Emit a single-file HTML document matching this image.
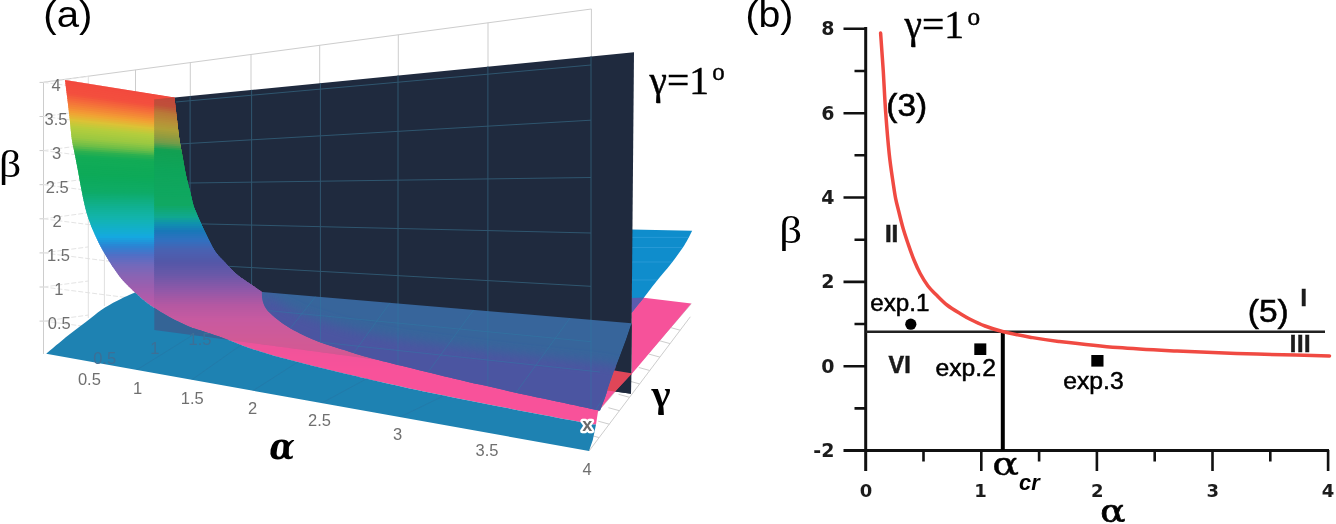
<!DOCTYPE html>
<html lang="en"><head><meta charset="utf-8"><title>Figure: (a) 3D surfaces, (b) phase diagram</title>
<style>html,body{margin:0;padding:0;background:#fff;}body{width:1336px;height:524px;overflow:hidden;}svg{display:block;}</style>
</head><body>
<svg width="1336" height="524" viewBox="0 0 1336 524">
<defs>
<clipPath id="cpPlane"><polygon points="154.3,99.5 634,52.3 631,393.7 154.3,330"/></clipPath>
<clipPath id="cpRainbow"><path d="M65 80 L174.4 97.6 L174.4 97.6 C174.8 100.5 175.8 109.4 176.5 115 C177.2 120.6 177.7 126.3 178.3 131 C178.9 135.7 179.3 138.8 180 143 C180.7 147.2 181.5 150.7 182.5 156.2 C183.5 161.7 184.9 170.2 186.2 176 C187.4 181.8 188.8 186.2 190 191 C191.2 195.8 192.3 201.4 193.3 205 C194.3 208.6 195.1 209.8 196.2 212.5 C197.3 215.2 198.4 217.7 200 221.2 C201.6 224.7 203.3 228.7 205.8 233.7 C208.3 238.7 211.8 246.4 215 251.2 C218.2 256 221.2 258.5 225 262.5 C228.8 266.5 233.3 271.5 237.5 275 C241.7 278.5 245.9 280.9 250 283.7 C254.1 286.5 259.9 290.5 261.9 291.9 L261.9 291.9 C264.9 293.8 273.6 299.4 280 303 C286.4 306.6 288.3 309.2 300 313.5 C311.7 317.8 333.3 324.8 350 329 C366.7 333.2 377.7 335.4 400 339 C422.3 342.6 457.3 347.2 484 350.5 C510.7 353.8 539.2 356.7 560 359 C580.8 361.3 597.1 362.3 609 364.5 C620.9 366.7 627.8 370.8 631.5 372 L631.5 374.2 L615 391.6 L598 411.5 L596 424.6 L596 424.6 C593.3 424.2 591 423.9 580 421.9 C569 419.9 546.7 415.7 530 412.5 C513.3 409.3 496.8 406 480 402.7 C463.2 399.4 445.7 396 429 392.5 C412.3 389 393.2 384.7 380 381.7 C366.8 378.7 359.2 376.9 350 374.7 C340.8 372.5 333.3 370.7 325 368.7 C316.7 366.7 308.3 364.6 300 362.5 C291.7 360.4 283.3 358.4 275 356 C266.7 353.6 258.3 351.1 250 348.2 C241.7 345.3 233.3 341.7 225 338.7 C216.7 335.7 205.8 332.3 200 330.3 C194.2 328.3 193.8 328.4 190 326.9 C186.2 325.4 181.7 323.3 177.5 321.2 C173.3 319.1 168.7 316.5 165 314.4 C161.3 312.3 158.9 310.9 155.6 308.7 C152.3 306.5 148.4 303.9 145 301.2 C141.6 298.5 136.7 293.9 135 292.5 L135 292.5 C132.9 290.4 125.8 283.8 122.5 280 C119.2 276.2 117.1 272.9 115 270 C112.9 267.1 112.1 265.8 110 262.5 C107.9 259.2 105 254.6 102.5 250 C100 245.4 97.3 240 95 235 C92.7 230 90.6 225 88.9 220 C87.2 215 85.9 210.4 84.6 205 C83.3 199.6 82.2 193.6 81 187.5 C79.8 181.4 78.7 174.5 77.6 168.7 C76.5 162.9 75.4 157.3 74.4 152.5 C73.5 147.7 72.7 145.4 71.9 140 C71.1 134.6 70.5 126.7 69.8 120 C69.1 113.3 68.3 106.7 67.5 100 C66.7 93.3 65.4 83.3 65 80 Z"/></clipPath>
<clipPath id="cpBlueII"><path d="M261.9 291.9 L631.5 323.2 L626 340 L620 356 L615 369 L610 382.5 L605 397.5 L600 410.6 L600 410.6 C596.7 409.9 591.7 408.9 580 406.4 C568.3 403.9 546.7 399.4 530 395.8 C513.3 392.2 495 388 480 384.6 C465 381.2 453.1 378.3 440 375.2 C426.9 372.1 413.7 368.9 401.5 365.8 C389.3 362.8 375.6 359.2 367 356.9 C358.4 354.6 354.9 353.4 350 351.9 C345.1 350.4 341.7 349.4 337.5 348.1 C333.3 346.8 329.2 345.5 325 344 C320.8 342.5 316.7 340.9 312.5 339.2 C308.3 337.4 304.2 335.6 300 333.5 C295.8 331.4 291.7 329.3 287.5 326.6 C283.3 323.9 278.6 320.5 275 317.5 C271.4 314.5 268.3 311.6 266.2 308.7 C264.1 305.8 263.2 302.8 262.5 300 C261.8 297.2 262 293.2 261.9 291.9 Z"/></clipPath>
<clipPath id="cpBlueFg"><path d="M46.2 353.7 C50 350.6 61.4 340.8 68.7 335 C76 329.2 84 323.3 90 318.7 C96 314.1 99.8 310.8 105 307.5 C110.2 304.2 116.2 301.2 121.2 298.7 C126.2 296.2 132.7 293.5 135 292.5 L135 292.5 C136.7 293.9 141.6 298.5 145 301.2 C148.4 303.9 152.3 306.5 155.6 308.7 C158.9 310.9 161.3 312.3 165 314.4 C168.7 316.5 173.3 319.1 177.5 321.2 C181.7 323.3 186.2 325.4 190 326.9 C193.8 328.4 194.2 328.3 200 330.3 C205.8 332.3 216.7 335.7 225 338.7 C233.3 341.7 241.7 345.3 250 348.2 C258.3 351.1 266.7 353.6 275 356 C283.3 358.4 291.7 360.4 300 362.5 C308.3 364.6 316.7 366.7 325 368.7 C333.3 370.7 340.8 372.5 350 374.7 C359.2 376.9 366.8 378.7 380 381.7 C393.2 384.7 412.3 389 429 392.5 C445.7 396 463.2 399.4 480 402.7 C496.8 406 513.3 409.3 530 412.5 C546.7 415.7 569 419.9 580 421.9 C591 423.9 593.3 424.2 596 424.6 L592.8 440 L589 451 Z"/></clipPath>
<filter id="bl6" x="-10%" y="-30%" width="120%" height="160%"><feGaussianBlur stdDeviation="6"/></filter>
<filter id="soft" x="-5%" y="-5%" width="110%" height="110%"><feGaussianBlur stdDeviation="0.6"/></filter>
</defs>
<rect width="1336" height="524" fill="#fff"/>
<g id="panelA">
<path d="M43.5 354 L43.5 82.2 L591.4 9 M135.5 69.9 L135.5 330 M190.3 62.6 L190.3 99.9 M251 54.5 L251 93.9 M319.7 45.3 L319.7 87.2 M398.3 34.8 L398.3 79.4 M488 22.8 L488 70.5 M591.4 9 L591.4 60.3 M39.5 82.4 L43.5 82.4 M39.5 116.5 L43.5 116.5 M39.5 150.6 L43.5 150.6 M39.5 184.7 L43.5 184.7 M39.5 218.8 L43.5 218.8 M39.5 252.9 L43.5 252.9 M39.5 287 L43.5 287 M39.5 321.1 L43.5 321.1 M589 451 L690.3 316.8 M598 411.5 L691.3 303.7 M599.1 437.6 l-11 -3 M609.3 424.2 l-11 -3 M619.4 410.7 l-11 -3 M629.5 397.3 l-11 -3 M639.6 383.9 l-11 -3 M649.8 370.5 l-11 -3 M659.9 357.1 l-11 -3 M670 343.6 l-11 -3 M680.2 330.2 l-11 -3" fill="none" stroke="#cdcdcd" stroke-width="1"/>
<path d="M43.5 82.4 L88.3 76.4 M43.5 82.4 L130 93.4 M43.5 116.5 L88.3 110.5 M43.5 116.5 L130 127.5 M43.5 150.6 L88.3 144.6 M43.5 150.6 L130 161.6 M43.5 184.7 L88.3 178.7 M43.5 184.7 L130 195.7 M43.5 218.8 L88.3 212.8 M43.5 218.8 L130 229.8 M43.5 252.9 L88.3 246.9 M43.5 252.9 L130 263.9 M43.5 287 L88.3 281 M43.5 287 L130 298 M43.5 321.1 L88.3 315.1 M43.5 321.1 L130 332.1" fill="none" stroke="#e4e4e4" stroke-width="1" stroke-dasharray="5 2"/>
<path d="M88.3 76.2 L88.3 318 M104.4 100 L104.4 306" fill="none" stroke="#e0e0e0" stroke-width="1"/>
<polygon points="631.5,296.2 691.3,303.5 631.5,374.2" fill="#f6529a"/>
<path d="M631.5 229.4 L692.2 230.7 L692.2 230.7 C690.9 233.1 687.8 239.8 684.2 245.4 C680.6 251 675.2 258.3 670.8 264.1 C666.3 269.9 662 274.5 657.5 280.1 C653 285.7 647.4 293.2 644 297.5 C640.6 301.8 639.1 303.4 637 306 C634.9 308.6 632.4 311.8 631.5 313 L631.5 323.2 Z" fill="#0f8dcc"/>
<clipPath id="cpBlueBack"><path d="M631.5 229.4 L692.2 230.7 L692.2 230.7 C690.9 233.1 687.8 239.8 684.2 245.4 C680.6 251 675.2 258.3 670.8 264.1 C666.3 269.9 662 274.5 657.5 280.1 C653 285.7 647.4 293.2 644 297.5 C640.6 301.8 639.1 303.4 637 306 C634.9 308.6 632.4 311.8 631.5 313 L631.5 323.2 Z"/></clipPath>
<path d="M630 237.4H700M630 247.5H700M630 262H700M630 280H700" stroke="#35a2dc" stroke-width="1" opacity="0.6" fill="none" clip-path="url(#cpBlueBack)"/>
<polygon points="631.5,298 644,297.5 637,306 631.5,313" fill="#5a5cae"/>
<polygon points="154.3,99.5 634,52.3 631,393.7 154.3,330" fill="#1f2a3e"/>
<path d="M190.1 96 L190.1 334.8 M251.6 89.9 L251.6 343 M320.4 83.1 L320.4 352.1 M398 75.4 L398 362.5 M487.9 66.5 L487.9 374.5 M591 56.4 L591 388.2 M175.8 102 L591 65 M175.8 144.2 L591 120.2 M175.8 183.2 L591 177.5 M175.8 223.3 L591 233 M175.8 263.4 L591 286.3 M175.8 303.5 L591 341.7" fill="none" stroke="#2f566f" stroke-width="1"/>
<g clip-path="url(#cpRainbow)"><path d="M30 46.9L700 172L700 172.7L30 50.9Z" fill="#f2463e"/><path d="M30 49.1L700 172.4L700 173.1L30 53.1Z" fill="#f2463e"/><path d="M30 51.3L700 172.8L700 173.5L30 55.2Z" fill="#f2463e"/><path d="M30 53.5L700 173.2L700 173.9L30 57.4Z" fill="#f2463e"/><path d="M30 55.7L700 173.6L700 174.3L30 59.6Z" fill="#f2463e"/><path d="M30 57.9L700 174L700 174.7L30 61.8Z" fill="#f2463e"/><path d="M30 60.1L700 174.4L700 175.1L30 64Z" fill="#f2463e"/><path d="M30 62.2L700 174.8L700 175.5L30 66.2Z" fill="#f2463e"/><path d="M30 64.4L700 175.2L700 175.9L30 68.4Z" fill="#f2463e"/><path d="M30 66.6L700 175.6L700 176.3L30 70.5Z" fill="#f2463e"/><path d="M30 68.8L700 176L700 176.7L30 72.7Z" fill="#f2473e"/><path d="M30 71L700 176.4L700 177.1L30 74.9Z" fill="#f2483e"/><path d="M30 73.2L700 176.8L700 177.5L30 77.1Z" fill="#f2493e"/><path d="M30 75.4L700 177.2L700 177.9L30 79.3Z" fill="#f24a3e"/><path d="M30 77.5L700 177.6L700 178.3L30 81.5Z" fill="#f34b3e"/><path d="M30 79.7L700 178L700 178.7L30 83.7Z" fill="#f34c3e"/><path d="M30 81.9L700 178.4L700 179.1L30 85.9Z" fill="#f34d3e"/><path d="M30 84.1L700 178.8L700 179.5L30 88Z" fill="#f34e3e"/><path d="M30 86.3L700 179.2L700 179.9L30 90.2Z" fill="#f34f3e"/><path d="M30 88.5L700 179.6L700 180.3L30 92.4Z" fill="#f3543d"/><path d="M30 90.7L700 180L700 180.7L30 94.6Z" fill="#f35d3c"/><path d="M30 92.9L700 180.4L700 181.1L30 96.8Z" fill="#f4653b"/><path d="M30 95L700 180.8L700 181.5L30 99Z" fill="#f46d3a"/><path d="M30 97.2L700 181.2L700 181.9L30 101.2Z" fill="#f47639"/><path d="M30 99.4L700 181.6L700 182.3L30 103.3Z" fill="#f47f38"/><path d="M30 101.6L700 182L700 182.7L30 105.5Z" fill="#f38836"/><path d="M30 103.8L700 182.4L700 183.1L30 107.7Z" fill="#f39236"/><path d="M30 106L700 182.8L700 183.5L30 109.9Z" fill="#f29b34"/><path d="M30 108.2L700 183.2L700 183.9L30 112.1Z" fill="#efa534"/><path d="M30 110.3L700 183.6L700 184.3L30 114.3Z" fill="#e9af35"/><path d="M30 112.5L700 184L700 184.7L30 116.5Z" fill="#e2b835"/><path d="M30 114.7L700 184.4L700 185.1L30 118.7Z" fill="#dcc236"/><path d="M30 116.9L700 184.8L700 185.5L30 120.8Z" fill="#d1c538"/><path d="M30 119.1L700 185.2L700 185.9L30 123Z" fill="#c6c939"/><path d="M30 121.3L700 185.6L700 186.3L30 125.2Z" fill="#bbcc3b"/><path d="M30 123.5L700 186L700 186.7L30 127.4Z" fill="#b3cd3d"/><path d="M30 125.7L700 186.4L700 187.1L30 129.6Z" fill="#aecc3e"/><path d="M30 127.8L700 186.8L700 187.5L30 131.8Z" fill="#a8cb3f"/><path d="M30 130L700 187.2L700 187.9L30 134Z" fill="#a2ca40"/><path d="M30 132.2L700 187.6L700 188.3L30 136.1Z" fill="#9dc941"/><path d="M30 134.4L700 188L700 188.7L30 138.3Z" fill="#93c743"/><path d="M30 136.6L700 188.4L700 189.1L30 140.5Z" fill="#86c445"/><path d="M30 138.8L700 188.8L700 189.5L30 142.7Z" fill="#79c146"/><path d="M30 141L700 189.2L700 189.9L30 144.9Z" fill="#6cbe48"/><path d="M30 143.1L700 189.6L700 190.3L30 147.1Z" fill="#57b94b"/><path d="M30 145.3L700 190L700 190.7L30 149.3Z" fill="#41b54d"/><path d="M30 147.5L700 190.4L700 191.1L30 151.5Z" fill="#2cb050"/><path d="M30 149.7L700 190.8L700 191.5L30 153.6Z" fill="#22ae52"/><path d="M30 151.9L700 191.2L700 191.9L30 155.8Z" fill="#17ac55"/><path d="M30 154.1L700 191.6L700 192.3L30 158Z" fill="#12ab56"/><path d="M30 156.3L700 192L700 192.7L30 160.2Z" fill="#11ab56"/><path d="M30 158.5L700 192.4L700 193.1L30 162.4Z" fill="#11ab57"/><path d="M30 160.6L700 192.8L700 193.5L30 164.6Z" fill="#10ab57"/><path d="M30 162.8L700 193.2L700 193.9L30 166.8Z" fill="#0faa57"/><path d="M30 165L700 193.6L700 194.3L30 168.9Z" fill="#0faa57"/><path d="M30 167.2L700 194L700 194.7L30 171.1Z" fill="#0eaa58"/><path d="M30 169.4L700 194.4L700 195.1L30 173.3Z" fill="#0eaa58"/><path d="M30 171.6L700 194.8L700 195.5L30 175.5Z" fill="#0daa58"/><path d="M30 173.8L700 195.2L700 195.9L30 177.7Z" fill="#0daa5a"/><path d="M30 175.9L700 195.6L700 196.3L30 179.9Z" fill="#0daa5b"/><path d="M30 178.1L700 196L700 196.7L30 182.1Z" fill="#0daa5d"/><path d="M30 180.3L700 196.4L700 197.1L30 184.3Z" fill="#0daa5f"/><path d="M30 182.5L700 196.8L700 197.5L30 186.4Z" fill="#0eab60"/><path d="M30 184.7L700 197.2L700 197.9L30 188.6Z" fill="#0eab62"/><path d="M30 186.9L700 197.6L700 198.3L30 190.8Z" fill="#0eab64"/><path d="M30 189.1L700 198L700 198.7L30 193Z" fill="#0eab65"/><path d="M30 191.3L700 198.4L700 199.1L30 195.2Z" fill="#0eab69"/><path d="M30 193.4L700 198.8L700 199.5L30 197.4Z" fill="#0eac6f"/><path d="M30 195.6L700 199.2L700 199.9L30 199.6Z" fill="#0fad74"/><path d="M30 197.8L700 199.6L700 201.6L30 201.6Z" fill="#0fae7a"/><path d="M30 200L700 200L700 203.6L30 203.6Z" fill="#0fae80"/><path d="M30 202L700 202L700 205.6L30 205.6Z" fill="#10af85"/><path d="M30 204L700 204L700 207.6L30 207.6Z" fill="#10b08b"/><path d="M30 206L700 206L700 209.6L30 209.6Z" fill="#10b091"/><path d="M30 208L700 208L700 211.6L30 211.6Z" fill="#11b196"/><path d="M30 210L700 210L700 213.6L30 213.6Z" fill="#11b29b"/><path d="M30 212L700 212L700 215.6L30 215.6Z" fill="#11b3a0"/><path d="M30 214L700 214L700 217.6L30 217.6Z" fill="#12b3a5"/><path d="M30 216L700 216L700 219.6L30 219.6Z" fill="#12b4aa"/><path d="M30 218L700 218L700 221.6L30 221.6Z" fill="#12b3af"/><path d="M30 220L700 220L700 223.6L30 223.6Z" fill="#12b3b5"/><path d="M30 222L700 222L700 225.6L30 225.6Z" fill="#12b2ba"/><path d="M30 224L700 224L700 227.6L30 227.6Z" fill="#12b1c0"/><path d="M30 226L700 226L700 229.6L30 229.6Z" fill="#12b0c5"/><path d="M30 228L700 228L700 231.6L30 231.6Z" fill="#12afcb"/><path d="M30 230L700 230L700 233.6L30 233.6Z" fill="#13add0"/><path d="M30 232L700 232L700 235.6L30 235.6Z" fill="#13acd5"/><path d="M30 234L700 234L700 237.6L30 237.6Z" fill="#14aadb"/><path d="M30 236L700 236L700 239.6L30 239.6Z" fill="#14a8e0"/><path d="M30 238L700 238L700 241.6L30 241.6Z" fill="#19a0dd"/><path d="M30 240L700 240L700 243.6L30 243.6Z" fill="#1e98db"/><path d="M30 242L700 242L700 245.6L30 245.6Z" fill="#2390d8"/><path d="M30 244L700 244L700 247.6L30 247.6Z" fill="#2888d5"/><path d="M30 246L700 246L700 249.6L30 249.6Z" fill="#2e82d2"/><path d="M30 248L700 248L700 251.6L30 251.6Z" fill="#367dcf"/><path d="M30 250L700 250L700 253.6L30 253.6Z" fill="#3f78cc"/><path d="M30 252L700 252L700 255.6L30 255.6Z" fill="#4774c9"/><path d="M30 254L700 254L700 257.6L30 257.6Z" fill="#4f6fc6"/><path d="M30 256L700 256L700 259.6L30 259.6Z" fill="#566ec4"/><path d="M30 258L700 258L700 261.6L30 261.6Z" fill="#5d6cc2"/><path d="M30 260L700 260L700 263.6L30 263.6Z" fill="#646bbf"/><path d="M30 262L700 262L700 265.6L30 265.6Z" fill="#6b6abd"/><path d="M30 264L700 264L700 267.6L30 267.6Z" fill="#7169bb"/><path d="M30 266L700 266L700 269.6L30 269.6Z" fill="#7668ba"/><path d="M30 268L700 268L700 271.6L30 271.6Z" fill="#7a67b8"/><path d="M30 270L700 270L700 273.6L30 273.6Z" fill="#7e66b7"/><path d="M30 272L700 272L700 275.6L30 275.6Z" fill="#8365b5"/><path d="M30 274L700 274L700 277.6L30 277.6Z" fill="#8764b4"/><path d="M30 276L700 276L700 279.6L30 279.6Z" fill="#8b63b3"/><path d="M30 278L700 278L700 281.6L30 281.6Z" fill="#8e62b2"/><path d="M30 280L700 280L700 283.6L30 283.6Z" fill="#9261b1"/><path d="M30 282L700 282L700 285.6L30 285.6Z" fill="#9560b0"/><path d="M30 284L700 284L700 287.6L30 287.6Z" fill="#995faf"/><path d="M30 286L700 286L700 289.6L30 289.6Z" fill="#9c5eae"/><path d="M30 288L700 288L700 291.6L30 291.6Z" fill="#a05eae"/><path d="M30 290L700 290L700 293.6L30 293.6Z" fill="#a45dad"/><path d="M30 292L700 292L700 295.6L30 295.6Z" fill="#a75dac"/><path d="M30 294L700 294L700 297.6L30 297.6Z" fill="#ab5cab"/><path d="M30 296L700 296L700 299.6L30 299.6Z" fill="#af5baa"/><path d="M30 298L700 298L700 301.6L30 301.6Z" fill="#b25ba9"/><path d="M30 300L700 300L700 303.6L30 303.6Z" fill="#b65aa8"/><path d="M30 302L700 302L700 305.6L30 305.6Z" fill="#b95aa8"/><path d="M30 304L700 304L700 307.6L30 307.6Z" fill="#bc5aa7"/><path d="M30 306L700 306L700 309.6L30 309.6Z" fill="#bf59a6"/><path d="M30 308L700 308L700 311.6L30 311.6Z" fill="#c259a5"/><path d="M30 310L700 310L700 313.6L30 313.6Z" fill="#c559a5"/><path d="M30 312L700 312L700 315.6L30 315.6Z" fill="#c859a4"/><path d="M30 314L700 314L700 317.6L30 317.6Z" fill="#cb58a3"/><path d="M30 316L700 316L700 319.6L30 319.6Z" fill="#ce58a2"/><path d="M30 318L700 318L700 321.6L30 321.6Z" fill="#d058a2"/><path d="M30 320L700 320L700 323.6L30 323.6Z" fill="#d258a1"/><path d="M30 322L700 322L700 325.6L30 325.6Z" fill="#d557a0"/><path d="M30 324L700 324L700 327.6L30 327.6Z" fill="#d757a0"/><path d="M30 326L700 326L700 329.6L30 329.6Z" fill="#da569f"/><path d="M30 328L700 328L700 331.6L30 331.6Z" fill="#dc569e"/><path d="M30 330L700 330L700 333.6L30 333.6Z" fill="#de569e"/><path d="M30 332L700 332L700 335.6L30 335.6Z" fill="#e0569d"/><path d="M30 334L700 334L700 337.6L30 337.6Z" fill="#e3559c"/><path d="M30 336L700 336L700 339.6L30 339.6Z" fill="#e5559c"/><path d="M30 338L700 338L700 341.6L30 341.6Z" fill="#e7559c"/><path d="M30 340L700 340L700 343.6L30 343.6Z" fill="#e8549b"/><path d="M30 342L700 342L700 345.6L30 345.6Z" fill="#ea549b"/><path d="M30 344L700 344L700 347.6L30 347.6Z" fill="#ec549b"/><path d="M30 346L700 346L700 349.6L30 349.6Z" fill="#ee549b"/><path d="M30 348L700 348L700 351.6L30 351.6Z" fill="#ef539a"/><path d="M30 350L700 350L700 353.6L30 353.6Z" fill="#f1539a"/><path d="M30 352L700 352L700 355.6L30 355.6Z" fill="#f2539a"/><path d="M30 354L700 354L700 357.6L30 357.6Z" fill="#f3539a"/><path d="M30 356L700 356L700 359.6L30 359.6Z" fill="#f4539a"/><path d="M30 358L700 358L700 361.6L30 361.6Z" fill="#f4539a"/><path d="M30 360L700 360L700 363.6L30 363.6Z" fill="#f5529a"/><path d="M30 362L700 362L700 365.6L30 365.6Z" fill="#f6529a"/><path d="M30 364L700 364L700 367.6L30 367.6Z" fill="#f6529a"/><path d="M30 366L700 366L700 369.6L30 369.6Z" fill="#f7529a"/><path d="M30 368L700 368L700 371.6L30 371.6Z" fill="#f8529a"/><path d="M30 370L700 370L700 373.6L30 373.6Z" fill="#f8529a"/><path d="M30 372L700 372L700 375.6L30 375.6Z" fill="#f8529a"/><path d="M30 374L700 374L700 377.6L30 377.6Z" fill="#f8529a"/><path d="M30 376L700 376L700 379.6L30 379.6Z" fill="#f8529a"/><path d="M30 378L700 378L700 381.6L30 381.6Z" fill="#f8529a"/><path d="M30 379.5H700V480H30Z" fill="#f8529a"/></g>
<g clip-path="url(#cpPlane)"><g clip-path="url(#cpRainbow)"><path d="M30 46.9L700 172L700 172.7L30 50.9Z" fill="#c2463c"/><path d="M30 49.1L700 172.4L700 173.1L30 53.1Z" fill="#c2463c"/><path d="M30 51.3L700 172.8L700 173.5L30 55.2Z" fill="#c2463c"/><path d="M30 53.5L700 173.2L700 173.9L30 57.4Z" fill="#c2463c"/><path d="M30 55.7L700 173.6L700 174.3L30 59.6Z" fill="#c2463c"/><path d="M30 57.9L700 174L700 174.7L30 61.8Z" fill="#c2463c"/><path d="M30 60.1L700 174.4L700 175.1L30 64Z" fill="#c2463c"/><path d="M30 62.2L700 174.8L700 175.5L30 66.2Z" fill="#c2463c"/><path d="M30 64.4L700 175.2L700 175.9L30 68.4Z" fill="#c2463c"/><path d="M30 66.6L700 175.6L700 176.3L30 70.5Z" fill="#c2463c"/><path d="M30 68.8L700 176L700 176.7L30 72.7Z" fill="#c2463c"/><path d="M30 71L700 176.4L700 177.1L30 74.9Z" fill="#c2463c"/><path d="M30 73.2L700 176.8L700 177.5L30 77.1Z" fill="#c2463c"/><path d="M30 75.4L700 177.2L700 177.9L30 79.3Z" fill="#c2483c"/><path d="M30 77.5L700 177.6L700 178.3L30 81.5Z" fill="#c1493b"/><path d="M30 79.7L700 178L700 178.7L30 83.7Z" fill="#c14b3b"/><path d="M30 81.9L700 178.4L700 179.1L30 85.9Z" fill="#c04d3b"/><path d="M30 84.1L700 178.8L700 179.5L30 88Z" fill="#c04e3a"/><path d="M30 86.3L700 179.2L700 179.9L30 90.2Z" fill="#bf503a"/><path d="M30 88.5L700 179.6L700 180.3L30 92.4Z" fill="#bd5a39"/><path d="M30 90.7L700 180L700 180.7L30 94.6Z" fill="#bc6439"/><path d="M30 92.9L700 180.4L700 181.1L30 96.8Z" fill="#ba6f38"/><path d="M30 95L700 180.8L700 181.5L30 99Z" fill="#b97938"/><path d="M30 97.2L700 181.2L700 181.9L30 101.2Z" fill="#b97d38"/><path d="M30 99.4L700 181.6L700 182.3L30 103.3Z" fill="#b98238"/><path d="M30 101.6L700 182L700 182.7L30 105.5Z" fill="#b88738"/><path d="M30 103.8L700 182.4L700 183.1L30 107.7Z" fill="#b88c38"/><path d="M30 106L700 182.8L700 183.5L30 109.9Z" fill="#b89138"/><path d="M30 108.2L700 183.2L700 183.9L30 112.1Z" fill="#b59538"/><path d="M30 110.3L700 183.6L700 184.3L30 114.3Z" fill="#b39938"/><path d="M30 112.5L700 184L700 184.7L30 116.5Z" fill="#b19d38"/><path d="M30 114.7L700 184.4L700 185.1L30 118.7Z" fill="#ada039"/><path d="M30 116.9L700 184.8L700 185.5L30 120.8Z" fill="#a69f3a"/><path d="M30 119.1L700 185.2L700 185.9L30 123Z" fill="#9f9e3c"/><path d="M30 121.3L700 185.6L700 186.3L30 125.2Z" fill="#979d3e"/><path d="M30 123.5L700 186L700 186.7L30 127.4Z" fill="#909c40"/><path d="M30 125.7L700 186.4L700 187.1L30 129.6Z" fill="#869c43"/><path d="M30 127.8L700 186.8L700 187.5L30 131.8Z" fill="#7d9c46"/><path d="M30 130L700 187.2L700 187.9L30 134Z" fill="#739c49"/><path d="M30 132.2L700 187.6L700 188.3L30 136.1Z" fill="#5f9d4b"/><path d="M30 134.4L700 188L700 188.7L30 138.3Z" fill="#469e4e"/><path d="M30 136.6L700 188.4L700 189.1L30 140.5Z" fill="#2e9f50"/><path d="M30 138.8L700 188.8L700 189.5L30 142.7Z" fill="#15a052"/><path d="M30 141L700 189.2L700 189.9L30 144.9Z" fill="#12a053"/><path d="M30 143.1L700 189.6L700 190.3L30 147.1Z" fill="#11a153"/><path d="M30 145.3L700 190L700 190.7L30 149.3Z" fill="#11a154"/><path d="M30 147.5L700 190.4L700 191.1L30 151.5Z" fill="#11a255"/><path d="M30 149.7L700 190.8L700 191.5L30 153.6Z" fill="#10a256"/><path d="M30 151.9L700 191.2L700 191.9L30 155.8Z" fill="#10a356"/><path d="M30 154.1L700 191.6L700 192.3L30 158Z" fill="#0fa357"/><path d="M30 156.3L700 192L700 192.7L30 160.2Z" fill="#0fa458"/><path d="M30 158.5L700 192.4L700 193.1L30 162.4Z" fill="#0fa458"/><path d="M30 160.6L700 192.8L700 193.5L30 164.6Z" fill="#0ea559"/><path d="M30 162.8L700 193.2L700 193.9L30 166.8Z" fill="#0ea55a"/><path d="M30 165L700 193.6L700 194.3L30 168.9Z" fill="#0ea55a"/><path d="M30 167.2L700 194L700 194.7L30 171.1Z" fill="#0ea55b"/><path d="M30 169.4L700 194.4L700 195.1L30 173.3Z" fill="#0ea55b"/><path d="M30 171.6L700 194.8L700 195.5L30 175.5Z" fill="#0ea65c"/><path d="M30 173.8L700 195.2L700 195.9L30 177.7Z" fill="#0fa65c"/><path d="M30 175.9L700 195.6L700 196.3L30 179.9Z" fill="#0fa65c"/><path d="M30 178.1L700 196L700 196.7L30 182.1Z" fill="#0fa65d"/><path d="M30 180.3L700 196.4L700 197.1L30 184.3Z" fill="#0fa65d"/><path d="M30 182.5L700 196.8L700 197.5L30 186.4Z" fill="#0fa65e"/><path d="M30 184.7L700 197.2L700 197.9L30 188.6Z" fill="#0fa75e"/><path d="M30 186.9L700 197.6L700 198.3L30 190.8Z" fill="#0fa75f"/><path d="M30 189.1L700 198L700 198.7L30 193Z" fill="#0fa75f"/><path d="M30 191.3L700 198.4L700 199.1L30 195.2Z" fill="#0fa75f"/><path d="M30 193.4L700 198.8L700 199.5L30 197.4Z" fill="#0fa760"/><path d="M30 195.6L700 199.2L700 199.9L30 199.6Z" fill="#10a760"/><path d="M30 197.8L700 199.6L700 201.6L30 201.6Z" fill="#10a761"/><path d="M30 200L700 200L700 203.6L30 203.6Z" fill="#10a861"/><path d="M30 202L700 202L700 205.6L30 205.6Z" fill="#10a862"/><path d="M30 204L700 204L700 207.6L30 207.6Z" fill="#10a862"/><path d="M30 206L700 206L700 209.6L30 209.6Z" fill="#10a86a"/><path d="M30 208L700 208L700 211.6L30 211.6Z" fill="#10a871"/><path d="M30 210L700 210L700 213.6L30 213.6Z" fill="#10a879"/><path d="M30 212L700 212L700 215.6L30 215.6Z" fill="#10a881"/><path d="M30 214L700 214L700 217.6L30 217.6Z" fill="#10a888"/><path d="M30 216L700 216L700 219.6L30 219.6Z" fill="#10a890"/><path d="M30 218L700 218L700 221.6L30 221.6Z" fill="#10a199"/><path d="M30 220L700 220L700 223.6L30 223.6Z" fill="#109aa2"/><path d="M30 222L700 222L700 225.6L30 225.6Z" fill="#1093ab"/><path d="M30 224L700 224L700 227.6L30 227.6Z" fill="#118db1"/><path d="M30 226L700 226L700 229.6L30 229.6Z" fill="#1386b3"/><path d="M30 228L700 228L700 231.6L30 231.6Z" fill="#167fb6"/><path d="M30 230L700 230L700 233.6L30 233.6Z" fill="#1878b8"/><path d="M30 232L700 232L700 235.6L30 235.6Z" fill="#1d76ba"/><path d="M30 234L700 234L700 237.6L30 237.6Z" fill="#2374bc"/><path d="M30 236L700 236L700 239.6L30 239.6Z" fill="#2873bd"/><path d="M30 238L700 238L700 241.6L30 241.6Z" fill="#2d71bf"/><path d="M30 240L700 240L700 243.6L30 243.6Z" fill="#326fbf"/><path d="M30 242L700 242L700 245.6L30 245.6Z" fill="#376cbc"/><path d="M30 244L700 244L700 247.6L30 247.6Z" fill="#3c69b9"/><path d="M30 246L700 246L700 249.6L30 249.6Z" fill="#4166b6"/><path d="M30 248L700 248L700 251.6L30 251.6Z" fill="#4663b3"/><path d="M30 250L700 250L700 253.6L30 253.6Z" fill="#4961b1"/><path d="M30 252L700 252L700 255.6L30 255.6Z" fill="#4b5fb0"/><path d="M30 254L700 254L700 257.6L30 257.6Z" fill="#4d5dae"/><path d="M30 256L700 256L700 259.6L30 259.6Z" fill="#4e5cac"/><path d="M30 258L700 258L700 261.6L30 261.6Z" fill="#505aaa"/><path d="M30 260L700 260L700 263.6L30 263.6Z" fill="#5258a9"/><path d="M30 262L700 262L700 265.6L30 265.6Z" fill="#5557a8"/><path d="M30 264L700 264L700 267.6L30 267.6Z" fill="#5857a8"/><path d="M30 266L700 266L700 269.6L30 269.6Z" fill="#5c57a8"/><path d="M30 268L700 268L700 271.6L30 271.6Z" fill="#5f58a8"/><path d="M30 270L700 270L700 273.6L30 273.6Z" fill="#6358a8"/><path d="M30 272L700 272L700 275.6L30 275.6Z" fill="#6658a8"/><path d="M30 274L700 274L700 277.6L30 277.6Z" fill="#6a58a8"/><path d="M30 276L700 276L700 279.6L30 279.6Z" fill="#6f58a8"/><path d="M30 278L700 278L700 281.6L30 281.6Z" fill="#7458a8"/><path d="M30 280L700 280L700 283.6L30 283.6Z" fill="#7958a8"/><path d="M30 282L700 282L700 285.6L30 285.6Z" fill="#7e58a8"/><path d="M30 284L700 284L700 287.6L30 287.6Z" fill="#8358a8"/><path d="M30 286L700 286L700 289.6L30 289.6Z" fill="#8858a8"/><path d="M30 288L700 288L700 291.6L30 291.6Z" fill="#8d58a8"/><path d="M30 290L700 290L700 293.6L30 293.6Z" fill="#9258a8"/><path d="M30 292L700 292L700 295.6L30 295.6Z" fill="#9758a7"/><path d="M30 294L700 294L700 297.6L30 297.6Z" fill="#9c58a6"/><path d="M30 296L700 296L700 299.6L30 299.6Z" fill="#a158a5"/><path d="M30 298L700 298L700 301.6L30 301.6Z" fill="#a658a4"/><path d="M30 300L700 300L700 303.6L30 303.6Z" fill="#aa58a4"/><path d="M30 302L700 302L700 305.6L30 305.6Z" fill="#af58a3"/><path d="M30 304L700 304L700 307.6L30 307.6Z" fill="#b458a2"/><path d="M30 306L700 306L700 309.6L30 309.6Z" fill="#b758a2"/><path d="M30 308L700 308L700 311.6L30 311.6Z" fill="#b959a1"/><path d="M30 310L700 310L700 313.6L30 313.6Z" fill="#bc59a1"/><path d="M30 312L700 312L700 315.6L30 315.6Z" fill="#bf59a1"/><path d="M30 314L700 314L700 317.6L30 317.6Z" fill="#c159a1"/><path d="M30 316L700 316L700 319.6L30 319.6Z" fill="#c45aa0"/><path d="M30 318L700 318L700 321.6L30 321.6Z" fill="#c75aa0"/><path d="M30 320L700 320L700 323.6L30 323.6Z" fill="#c85aa0"/><path d="M30 322L700 322L700 325.6L30 325.6Z" fill="#c95a9e"/><path d="M30 324L700 324L700 327.6L30 327.6Z" fill="#ca5a9e"/><path d="M30 326L700 326L700 329.6L30 329.6Z" fill="#cb5a9c"/><path d="M30 328L700 328L700 331.6L30 331.6Z" fill="#cc5a9c"/><path d="M30 330L700 330L700 333.6L30 333.6Z" fill="#cc5a9a"/><path d="M30 332L700 332L700 335.6L30 335.6Z" fill="#cd5a9a"/><path d="M30 334L700 334L700 337.6L30 337.6Z" fill="#ce5a98"/><path d="M30 336L700 336L700 339.6L30 339.6Z" fill="#cf5a98"/><path d="M30 338L700 338L700 341.6L30 341.6Z" fill="#d05a96"/><path d="M30 340L700 340L700 343.6L30 343.6Z" fill="#d05a96"/><path d="M30 342L700 342L700 345.6L30 345.6Z" fill="#d15a95"/><path d="M30 344L700 344L700 347.6L30 347.6Z" fill="#d15995"/><path d="M30 346L700 346L700 349.6L30 349.6Z" fill="#d25995"/><path d="M30 348L700 348L700 351.6L30 351.6Z" fill="#d25994"/><path d="M30 350L700 350L700 353.6L30 353.6Z" fill="#d35994"/><path d="M30 352L700 352L700 355.6L30 355.6Z" fill="#d35893"/><path d="M30 354L700 354L700 357.6L30 357.6Z" fill="#d45893"/><path d="M30 356L700 356L700 359.6L30 359.6Z" fill="#d55893"/><path d="M30 358L700 358L700 361.6L30 361.6Z" fill="#d55792"/><path d="M30 360L700 360L700 363.6L30 363.6Z" fill="#d65792"/><path d="M30 362L700 362L700 365.6L30 365.6Z" fill="#d65791"/><path d="M30 364L700 364L700 367.6L30 367.6Z" fill="#d75791"/><path d="M30 366L700 366L700 369.6L30 369.6Z" fill="#d75691"/><path d="M30 368L700 368L700 371.6L30 371.6Z" fill="#d85690"/><path d="M30 370L700 370L700 373.6L30 373.6Z" fill="#d85690"/><path d="M30 372L700 372L700 375.6L30 375.6Z" fill="#d85690"/><path d="M30 374L700 374L700 377.6L30 377.6Z" fill="#d85690"/><path d="M30 376L700 376L700 379.6L30 379.6Z" fill="#d85690"/><path d="M30 378L700 378L700 381.6L30 381.6Z" fill="#d85690"/><path d="M30 379.5H700V480H30Z" fill="#d85690"/></g></g>
<path d="M261.9 291.9 L631.5 323.2 L626 340 L620 356 L615 369 L610 382.5 L605 397.5 L600 410.6 L600 410.6 C596.7 409.9 591.7 408.9 580 406.4 C568.3 403.9 546.7 399.4 530 395.8 C513.3 392.2 495 388 480 384.6 C465 381.2 453.1 378.3 440 375.2 C426.9 372.1 413.7 368.9 401.5 365.8 C389.3 362.8 375.6 359.2 367 356.9 C358.4 354.6 354.9 353.4 350 351.9 C345.1 350.4 341.7 349.4 337.5 348.1 C333.3 346.8 329.2 345.5 325 344 C320.8 342.5 316.7 340.9 312.5 339.2 C308.3 337.4 304.2 335.6 300 333.5 C295.8 331.4 291.7 329.3 287.5 326.6 C283.3 323.9 278.6 320.5 275 317.5 C271.4 314.5 268.3 311.6 266.2 308.7 C264.1 305.8 263.2 302.8 262.5 300 C261.8 297.2 262 293.2 261.9 291.9 Z" fill="#37659b"/>
<g clip-path="url(#cpBlueII)"><path d="M261.9 291.9 C264.9 293.8 273.6 299.4 280 303 C286.4 306.6 288.3 309.2 300 313.5 C311.7 317.8 333.3 324.8 350 329 C366.7 333.2 377.7 335.4 400 339 C422.3 342.6 457.3 347.2 484 350.5 C510.7 353.8 539.2 356.7 560 359 C580.8 361.3 597.1 362.3 609 364.5 C620.9 366.7 627.8 370.8 631.5 372 L640 372 L640 430 L400 430 L262 330 Z" fill="#4b55a1" filter="url(#bl6)"/></g>
<path d="M320.4 83.1 L320.4 372.1 M398 75.4 L398 382.5 M487.9 66.5 L487.9 394.5 M591 56.4 L591 408.2 M262 310 L591 341.7 M300 340 L600 372 M277 345 L316 296 M340 372 L392 300 M415 390 L475 308 M505 408 L570 318 M585 425 L630 360" fill="none" stroke="#2d7fa6" stroke-width="1" opacity="0.42" clip-path="url(#cpBlueII)"/>
<polygon points="614.3,370.2 631.2,373 631.2,374.4 615.6,391.6 607.3,390.6 610,382.5" fill="#e04658"/>
<polygon points="631.3,374.2 631,393.7 615.5,391.6" fill="#1f2a3e"/>
<polygon points="631.8,323.2 631.3,373.2 614.3,370.4 615,369 620,356 626,340" fill="#1f2a3e"/>
<path d="M46.2 353.7 C50 350.6 61.4 340.8 68.7 335 C76 329.2 84 323.3 90 318.7 C96 314.1 99.8 310.8 105 307.5 C110.2 304.2 116.2 301.2 121.2 298.7 C126.2 296.2 132.7 293.5 135 292.5 L135 292.5 C136.7 293.9 141.6 298.5 145 301.2 C148.4 303.9 152.3 306.5 155.6 308.7 C158.9 310.9 161.3 312.3 165 314.4 C168.7 316.5 173.3 319.1 177.5 321.2 C181.7 323.3 186.2 325.4 190 326.9 C193.8 328.4 194.2 328.3 200 330.3 C205.8 332.3 216.7 335.7 225 338.7 C233.3 341.7 241.7 345.3 250 348.2 C258.3 351.1 266.7 353.6 275 356 C283.3 358.4 291.7 360.4 300 362.5 C308.3 364.6 316.7 366.7 325 368.7 C333.3 370.7 340.8 372.5 350 374.7 C359.2 376.9 366.8 378.7 380 381.7 C393.2 384.7 412.3 389 429 392.5 C445.7 396 463.2 399.4 480 402.7 C496.8 406 513.3 409.3 530 412.5 C546.7 415.7 569 419.9 580 421.9 C591 423.9 593.3 424.2 596 424.6 L592.8 440 L589 451 Z" fill="#1e82b2"/>
<g clip-path="url(#cpBlueFg)"><polygon points="154.3,99.5 634,52.3 631,393.7 154.3,330" fill="#346496"/></g>
<path d="M135 371 L262 292 M190 381 L305 300 M251 392 L390 303 M320 404 L490 312 M398 418 L600 320" fill="none" stroke="#2a6c9c" stroke-width="1" opacity="0.35" clip-path="url(#cpBlueFg)"/>
<g font-family="'Liberation Sans', Arial, sans-serif" font-size="16.5" fill="#6f6f6f" text-anchor="middle">
<text x="56" y="91">4</text>
<text x="56" y="124.5">3.5</text>
<text x="56.6" y="158.6">3</text>
<text x="57.2" y="192.7">2.5</text>
<text x="57.1" y="226.8">2</text>
<text x="58.5" y="260.9">1.5</text>
<text x="58.9" y="295">1</text>
<text x="59.3" y="329.1">0.5</text>
<text x="89.4" y="385.2">0.5</text>
<text x="137.7" y="394">1</text>
<text x="192.3" y="403.6">1.5</text>
<text x="252.6" y="413.9">2</text>
<text x="319.5" y="425.9">2.5</text>
<text x="397.5" y="439.9">3</text>
<text x="487" y="455.9">3.5</text>
<text x="587" y="474.6">4</text>
</g>
<g font-family="'Liberation Sans', Arial, sans-serif" font-size="16.5" fill="#3d6f96" text-anchor="middle">
<text x="104.6" y="364.1">0.5</text>
<text x="154.8" y="353.7">1</text>
<text x="200" y="345.1">1.5</text>
</g>
<text x="587.3" y="431" text-anchor="middle" font-family="'Liberation Sans', Arial, sans-serif" font-weight="bold" font-size="18" fill="#6a6a6a" stroke="#fff" stroke-width="4.5" stroke-linejoin="round" paint-order="stroke">x</text>
<text transform="translate(43.3 26.7) scale(1.07 1)" font-family="'Liberation Sans', Arial, sans-serif" font-size="37.5" fill="#000">(a)</text>
<text transform="translate(-1 176.6) scale(1.12 1)" font-family="'Liberation Serif', 'Times New Roman', serif" font-size="39" fill="#000">β</text>
<text transform="translate(269.3 458.6) scale(0.89 1)" font-family="'DejaVu Serif', 'Liberation Serif', serif" font-weight="bold" font-style="italic" font-size="37.5" fill="#000">α</text>
<text transform="translate(651.5 407.3) scale(1.06 1)" font-family="'Liberation Serif', 'Times New Roman', serif" font-weight="bold" font-size="38.5" fill="#000">γ</text>
<text transform="translate(649.5 93.5) scale(0.975 1)" font-family="'Liberation Serif', 'Times New Roman', serif" font-size="40.5" fill="#000" stroke="#000" stroke-width="0.45">γ=1<tspan font-size="25.5" dy="-13.5" dx="3.4">o</tspan></text>
</g>
<g id="panelB">
<path d="M865.7 27 L865.7 471 M843.5 450.6 L1329 450.6" fill="none" stroke="#111" stroke-width="3"/>
<path d="M843.5 28.8 L865.7 28.8 M843.5 113.2 L865.7 113.2 M843.5 197.5 L865.7 197.5 M843.5 281.9 L865.7 281.9 M843.5 366.2 L865.7 366.2 M854.5 71 L865.7 71 M854.5 155.3 L865.7 155.3 M854.5 239.7 L865.7 239.7 M854.5 324 L865.7 324 M854.5 408.4 L865.7 408.4 M981.3 450 L981.3 471 M1096.9 450 L1096.9 471 M1212.5 450 L1212.5 471 M1328.1 450 L1328.1 471 M923.5 450 L923.5 461.5 M1039.1 450 L1039.1 461.5 M1154.7 450 L1154.7 461.5 M1270.3 450 L1270.3 461.5" fill="none" stroke="#111" stroke-width="2.6"/>
<path d="M865.7 331.8 L1325 331.8" stroke="#222" stroke-width="2.6" fill="none"/>
<path d="M1002.8 331 L1002.8 450" stroke="#000" stroke-width="4" fill="none"/>
<path d="M880.6 33 C881 39.4 882.4 58.2 883.3 71.5 C884.1 84.8 884.7 99 885.7 112.7 C886.7 126.4 888 142.2 889.2 153.8 C890.4 165.4 891.9 174.6 893 182 C894.1 189.4 894.6 193.4 895.6 198.4 C896.6 203.4 897.7 207.1 898.9 212 C900.1 216.9 901.5 222.7 903 228 C904.5 233.3 906.4 238.8 908.2 244.1 C910 249.4 912 255.1 914 260 C916 264.9 917.9 269.2 920.2 273.5 C922.5 277.8 925.3 282.4 928 286 C930.7 289.6 933 291.6 936.2 294.8 C939.4 298 943 301.9 947 305 C951 308.1 956.2 311.2 960 313.5 C963.8 315.8 965.4 316.9 969.6 319 C973.8 321.1 979.5 323.9 985 326 C990.5 328.1 995 329.6 1002.5 331.5 C1010 333.4 1020.6 335.6 1030 337.2 C1039.3 338.8 1044 339.7 1058.6 341.4 C1073.2 343.1 1098 346 1117.8 347.6 C1137.5 349.2 1157.3 350.1 1177.1 351.1 C1196.9 352.1 1216.6 352.9 1236.4 353.5 C1256.2 354.1 1280.2 354.6 1295.7 355 C1311.2 355.4 1323.9 355.8 1329.5 355.9" fill="none" stroke="#f04a42" stroke-width="3.5" stroke-linecap="round" stroke-linejoin="round"/>
<circle cx="910.8" cy="324.2" r="5.6" fill="#000"/>
<rect x="974.3" y="343.4" width="12" height="11.6" fill="#000"/>
<rect x="1091.3" y="355" width="12.2" height="11.6" fill="#000"/>
<g font-family="'DejaVu Sans', Verdana, sans-serif" font-weight="bold" font-size="19" fill="#1a1a1a" text-anchor="end" filter="url(#soft)">
<text x="834.4" y="35.1">8</text>
<text x="834.4" y="119.5">6</text>
<text x="834.4" y="203.8">4</text>
<text x="834.4" y="288.2">2</text>
<text x="834.4" y="372.5">0</text>
<text x="834.4" y="456.8">-2</text>
</g>
<g font-family="'DejaVu Sans', Verdana, sans-serif" font-weight="bold" font-size="18" fill="#1a1a1a" text-anchor="middle" filter="url(#soft)">
<text x="866" y="497">0</text>
<text x="980.5" y="497">1</text>
<text x="1097.2" y="497">2</text>
<text x="1212.8" y="497">3</text>
<text x="1328" y="497">4</text>
</g>
<text transform="translate(745.5 26.7) scale(1.06 1)" font-family="'Liberation Sans', Arial, sans-serif" font-size="37" fill="#000">(b)</text>
<text transform="translate(904.5 38.2) scale(0.99 1)" font-family="'Liberation Serif', 'Times New Roman', serif" font-size="40" fill="#000" stroke="#000" stroke-width="0.45">γ=1<tspan font-size="25.5" dy="-13.5" dx="3.4">o</tspan></text>
<text transform="translate(886.3 116) scale(1.08 1)" font-family="'Liberation Sans', Arial, sans-serif" font-size="31" fill="#000" stroke="#000" stroke-width="0.55">(3)</text>
<text transform="translate(1247.8 322.4) scale(1.08 1)" font-family="'Liberation Sans', Arial, sans-serif" font-size="31" fill="#000" stroke="#000" stroke-width="0.55">(5)</text>
<text transform="translate(779.3 242.9) scale(1.15 1)" font-family="'Liberation Serif', 'Times New Roman', serif" font-size="39" fill="#000">β</text>
<text transform="translate(1100.2 521.7) scale(1.18 1)" font-family="'DejaVu Serif', 'Liberation Serif', serif" font-size="31.5" fill="#000" stroke="#000" stroke-width="0.7">α</text>
<text transform="translate(992.2 474.6) scale(1.22 1)" font-family="'DejaVu Serif', 'Liberation Serif', serif" font-size="32.5" fill="#000" stroke="#000" stroke-width="0.4">α</text>
<text transform="translate(1019 490.4) scale(0.97 1)" font-family="'Liberation Sans', Arial, sans-serif" font-weight="bold" font-style="italic" font-size="22.5" fill="#000">cr</text>
<text transform="translate(870.3 311.4) scale(1.035 1)" font-family="'Liberation Sans', Arial, sans-serif" font-size="23.4" fill="#000" stroke="#000" stroke-width="0.5">exp.1</text>
<text transform="translate(935.5 375.6) scale(1.055 1)" font-family="'Liberation Sans', Arial, sans-serif" font-size="23.4" fill="#000" stroke="#000" stroke-width="0.5">exp.2</text>
<text transform="translate(1063.3 389) scale(1.055 1)" font-family="'Liberation Sans', Arial, sans-serif" font-size="23.4" fill="#000" stroke="#000" stroke-width="0.5">exp.3</text>
<text transform="translate(884.9 241.9) scale(1.05 1)" font-family="'Liberation Sans', Arial, sans-serif" font-weight="bold" font-size="23" fill="#1a1a1a" stroke="#1a1a1a" stroke-width="0.5" filter="url(#soft)">II</text>
<text transform="translate(888.6 372.6) scale(1.02 1)" font-family="'Liberation Sans', Arial, sans-serif" font-weight="bold" font-size="23" fill="#1a1a1a" stroke="#1a1a1a" stroke-width="0.5" filter="url(#soft)">VI</text>
<text transform="translate(1300.5 306) scale(1.0 1)" font-family="'Liberation Sans', Arial, sans-serif" font-weight="bold" font-size="23" fill="#1a1a1a" stroke="#1a1a1a" stroke-width="0.5" filter="url(#soft)">I</text>
<text transform="translate(1289.8 352) scale(1.02 1)" font-family="'Liberation Sans', Arial, sans-serif" font-weight="bold" font-size="23" fill="#1a1a1a" stroke="#1a1a1a" stroke-width="0.5" filter="url(#soft)" letter-spacing="0.6">III</text>
</g>
</svg>
</body></html>
